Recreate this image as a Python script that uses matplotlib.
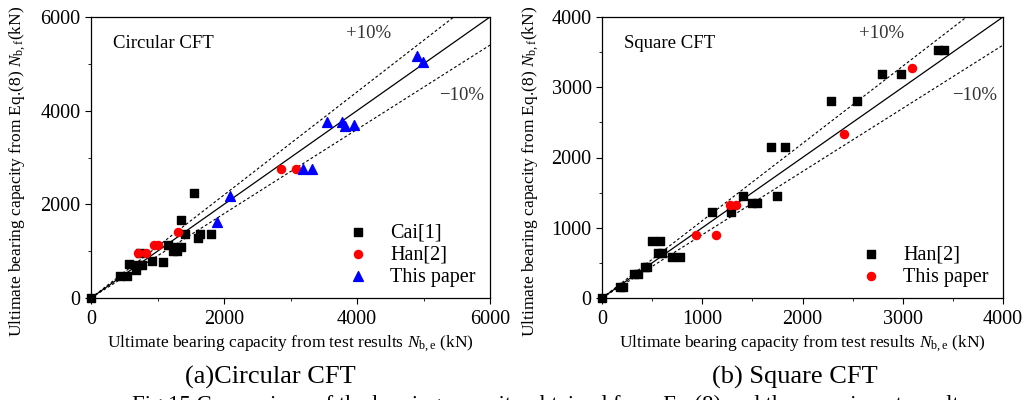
import numpy as np
import matplotlib
matplotlib.use('Agg')
import matplotlib.pyplot as plt
from matplotlib.ticker import MultipleLocator

plt.rcParams['font.family'] = ['Liberation Serif', 'DejaVu Serif']
plt.rcParams['mathtext.fontset'] = 'custom'
plt.rcParams['mathtext.it'] = 'Liberation Serif:italic'
plt.rcParams['mathtext.rm'] = 'Liberation Serif'

# (a) circular CFT
cai_x = [0, 436, 546, 571, 672, 712, 762, 737, 922, 1078, 1163, 1238, 1298, 1298, 1348,
         1348, 1413, 1554, 1604, 1644, 1805]
cai_y = [0, 476, 476, 724, 589, 710, 710, 959, 781, 767, 1136, 994, 994, 1086, 1086,
         1669, 1370, 2251, 1271, 1370, 1370]
han_c_x = [712, 822, 947, 1013, 1303, 2853, 3078]
han_c_y = [959, 959, 1122, 1122, 1406, 2755, 2755]
paper_c_x = [1890, 2090, 3193, 3318, 3544, 3779, 3819, 3959, 4907, 4987]
paper_c_y = [1633, 2187, 2755, 2755, 3763, 3763, 3670, 3684, 5162, 5041]

# (b) square CFT
han_s_x = [0, 176, 209, 319, 359, 426, 449, 499, 575, 559, 602, 702, 775, 1097, 1283,
           1406, 1496, 1546, 1742, 1682, 1825, 2284, 2540, 2790, 2986, 3352, 3411]
han_s_y = [0, 151, 151, 339, 339, 447, 447, 809, 809, 645, 645, 588, 588, 1219, 1219,
           1454, 1351, 1351, 1454, 2151, 2151, 2809, 2809, 3195, 3195, 3529, 3529]
paper_s_x = [941, 1134, 1273, 1333, 2414, 3096]
paper_s_y = [894, 894, 1322, 1322, 2329, 3271]

fig = plt.figure(figsize=(10.3, 4), dpi=100)
ax1 = fig.add_axes([91/1030, 1-298/400, 399/1030, 281/400])
ax2 = fig.add_axes([602/1030, 1-298/400, 401/1030, 281/400])

xlab = r'Ultimate bearing capacity from test results $N_{\mathrm{b,e}}$ (kN)'
ylab = r'Ultimate bearing capacity from Eq.(8) $N_{\mathrm{b,f}}$(kN)'


def setup(ax, lim, major, title, ylab_x):
    t = np.array([0, lim])
    ax.plot(t, t, color='black', lw=0.9)
    ax.plot(t, 1.1 * t, color='black', lw=0.8, ls=(0, (2.5, 2)))
    ax.plot(t, 0.9 * t, color='black', lw=0.8, ls=(0, (2.5, 2)))
    ax.set_xlim(0, lim)
    ax.set_ylim(0, lim)
    ax.xaxis.set_major_locator(MultipleLocator(major))
    ax.xaxis.set_minor_locator(MultipleLocator(major / 2))
    ax.yaxis.set_major_locator(MultipleLocator(major))
    ax.yaxis.set_minor_locator(MultipleLocator(major / 2))
    ax.tick_params(which='major', direction='out', length=4, labelsize=14.5, top=False, right=False)
    ax.tick_params(which='minor', direction='out', length=2.5, top=False, right=False)
    ax.tick_params(axis='x', pad=5)
    for s in ax.spines.values():
        s.set_linewidth(0.9)
    ax.set_xlabel(xlab, fontsize=12.5, labelpad=3)
    ax.set_ylabel(ylab, fontsize=12.5)
    ax.yaxis.set_label_coords(ylab_x, 0.45)
    ax.text(0.055, 0.89, title, transform=ax.transAxes, fontsize=13.5)
    ax.text(0.64, 0.925, '+10%', transform=ax.transAxes, fontsize=13.5, color='#333333')
    ax.text(0.872, 0.705, '\u221210%', transform=ax.transAxes, fontsize=13.5, color='#333333')


setup(ax1, 6000, 2000, 'Circular CFT', -0.158)
setup(ax2, 4000, 1000, 'Square CFT', -0.152)

ax1.scatter(cai_x, cai_y, marker='s', s=30, color='black', label='Cai[1]', zorder=3, clip_on=False)
ax1.scatter(han_c_x, han_c_y, marker='o', s=34, color='red', label='Han[2]', zorder=3)
ax1.scatter(paper_c_x, paper_c_y, marker='^', s=50, color='blue', label='This paper', zorder=3)
ax1.legend(loc='lower right', bbox_to_anchor=(1.0, -0.01), frameon=False, fontsize=14.5,
           handletextpad=0.6, labelspacing=0.15, borderaxespad=0.3)

ax2.scatter(han_s_x, han_s_y, marker='s', s=30, color='black', label='Han[2]', zorder=3, clip_on=False)
ax2.scatter(paper_s_x, paper_s_y, marker='o', s=34, color='red', label='This paper', zorder=3)
ax2.legend(loc='lower right', bbox_to_anchor=(1.0, -0.01), frameon=False, fontsize=14.5,
           handletextpad=0.6, labelspacing=0.15, borderaxespad=0.3)

fig.text(270/1030, 1-377/400, '(a)Circular CFT', fontsize=19, ha='center', va='center')
fig.text(795/1030, 1-377/400, '(b) Square CFT', fontsize=19, ha='center', va='center')
fig.text(132/1030, 1-405/400, 'Fig.15 Comparison of the bearing capacity obtained from Eq.(8) and the experiment results',
         fontsize=16.5, ha='left', va='center')

fig.savefig('out.png', dpi=100)
